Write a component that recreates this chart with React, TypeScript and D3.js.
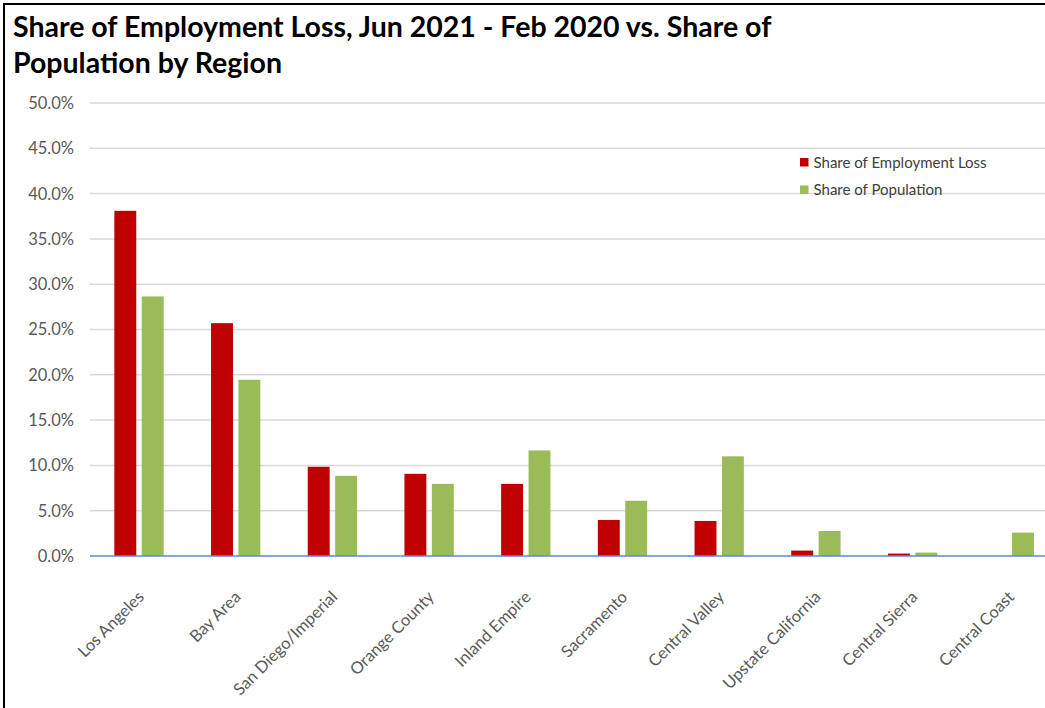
import React from 'react';
import * as d3 from 'd3';

// regions, in the order the chart shows them
const regions = [
  'Los Angeles',
  'Bay Area',
  'San Diego/Imperial',
  'Orange County',
  'Inland Empire',
  'Sacramento',
  'Central Valley',
  'Upstate California',
  'Central Sierra',
  'Central Coast',
];

// share values in percent
const employmentLoss = [38.1, 25.7, 9.85, 9.07, 7.96, 3.98, 3.87, 0.6, 0.27, 0.0];
const population = [28.65, 19.45, 8.85, 7.96, 11.65, 6.1, 11.0, 2.76, 0.38, 2.58];

const yTicks = [0, 5, 10, 15, 20, 25, 30, 35, 40, 45, 50];

const seriesNames = ['Share of Employment Loss', 'Share of Population'];
const seriesColors = ['#c00000', '#9bbb59'];

const W = 1045;
const H = 708;
const FONT = 'Lato, "Open Sans", sans-serif';

const App: React.FC = () => {
  const y = d3.scaleLinear().domain([0, 50]).range([556, 103]);
  const x0 = d3.scaleBand<string>().domain(regions).range([90.65, 1057.65]);
  const bw = x0.bandwidth();
  // red and green bars sit in the middle half of each band
  const x1 = d3
    .scaleBand<number>()
    .domain([0, 1])
    .range([bw * 0.245, bw * 0.755])
    .paddingInner(0.2);

  const rows = regions.map((name, i) => ({ name, values: [employmentLoss[i], population[i]] }));

  return (
    <div style={{ position: 'absolute', left: 0, top: 0 }}>
      <svg width={W} height={H} style={{ display: 'block', fontFamily: FONT }}>
        <rect x={0} y={0} width={W} height={H} fill="#fff" />
        <rect x={4} y={4} width={W + 20} height={H + 20} fill="none" stroke="#000" strokeWidth={2} />

        <text x={13} y={37} fontSize={28.5} fontWeight={700} fill="#000">
          Share of Employment Loss, Jun 2021 - Feb 2020 vs. Share of
        </text>
        <text x={13} y={73} fontSize={28.5} fontWeight={700} fill="#000">
          Population by Region
        </text>

        {/* gridlines and y tick labels */}
        {yTicks.map((t) => (
          <g key={t}>
            {t > 0 && (
              <line x1={90} x2={W} y1={y(t)} y2={y(t)} stroke="#d9d9d9" strokeWidth={1.5} />
            )}
            <text x={74} y={y(t)} dy="0.36em" textAnchor="end" fontSize={16.5} fill="#595959">
              {t.toFixed(1)}%
            </text>
          </g>
        ))}

        {/* bars */}
        {rows.map((r) => (
          <g key={r.name} transform={`translate(${x0(r.name)},0)`}>
            {r.values.map((v, j) =>
              v > 0 ? (
                <rect
                  key={j}
                  x={x1(j)}
                  y={y(v)}
                  width={x1.bandwidth()}
                  height={y(0) - y(v)}
                  fill={seriesColors[j]}
                />
              ) : null
            )}
          </g>
        ))}

        {/* x axis */}
        <line x1={90} x2={W} y1={y(0)} y2={y(0)} stroke="#5b8bd0" strokeWidth={1.5} />
        {regions.map((name) => {
          const cx = (x0(name) ?? 0) + bw / 2 + 6;
          return (
            <text
              key={name}
              transform={`translate(${cx},598) rotate(-45)`}
              textAnchor="end"
              fontSize={16.5}
              fill="#595959"
            >
              {name}
            </text>
          );
        })}

        {/* legend */}
        {seriesNames.map((s, i) => (
          <g key={s} transform={`translate(800,${158 + i * 27.5})`}>
            <rect x={0} y={0} width={8.5} height={8.5} fill={seriesColors[i]} />
            <text x={13.5} y={9.5} fontSize={15} fill="#404040">
              {s}
            </text>
          </g>
        ))}
      </svg>
    </div>
  );
};

export default App;
